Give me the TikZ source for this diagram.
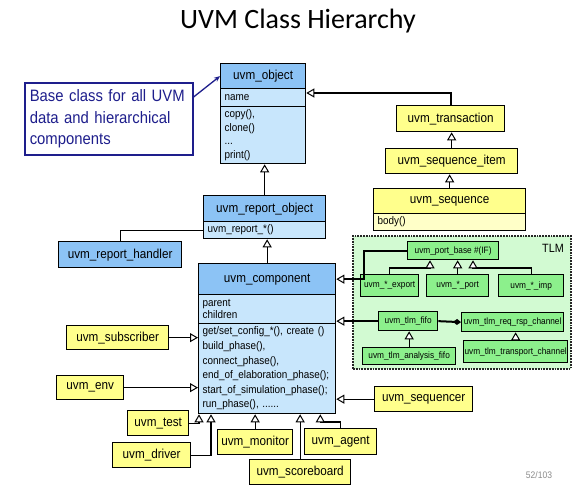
\documentclass[tikz,border=0pt]{standalone}
\usepackage{fontspec}
\setmainfont{Liberation Sans}
\newfontfamily\uvmfont[FakeStretch=0.9]{Liberation Sans}
\newfontfamily\titlefont{Carlito}
\usetikzlibrary{arrows.meta,calc}
\definecolor{hdrblue}{RGB}{140,195,245}
\definecolor{bodyblue}{RGB}{200,230,252}
\definecolor{clsyellow}{RGB}{255,255,140}
\definecolor{bodyyellow}{RGB}{255,255,200}
\definecolor{tlmgreen}{RGB}{140,240,140}
\definecolor{tlmback}{RGB}{210,250,210}
\definecolor{notenavy}{RGB}{30,30,140}

\begin{document}
\begin{tikzpicture}[x=1pt,y=-1pt,
	box/.style={draw, line width=1.3pt, anchor=north west, inner sep=0pt, font=\uvmfont\fontsize{13}{15}\selectfont},
	mem/.style={box, align=left, inner xsep=4pt, font=\uvmfont\fontsize{11}{13.5}\selectfont},
	tlmbox/.style={box, fill=tlmgreen, font=\uvmfont\fontsize{9.2}{11}\selectfont},
	inh/.style={line width=1.2pt, -{Triangle[length=8pt, width=9pt, fill=white, line width=1pt]}},
	assoc/.style={line width=1.2pt}]
		\useasboundingbox (0,0) rectangle (576,486);
		\fill[white] (0,0) rectangle (576,486);
		
		% Title
		\node[font=\titlefont\fontsize{28}{32}\selectfont] (title) at (298,21) {UVM Class Hierarchy};
		
		% uvm_object
		\node[box, fill=hdrblue, minimum width=85pt, minimum height=25pt] (obj) at (220,63) {uvm\_object};
		\node[mem, fill=bodyblue, minimum width=85pt, minimum height=18pt, text width=77pt] (objname) at (220,88) {name};
		\node[mem, fill=bodyblue, minimum width=85pt, minimum height=57pt, text width=77pt] (objops) at (220,106) {copy(),\\clone()\\...\\print()};
		
		% Note
		\node[draw=notenavy, line width=1.6pt, fill=white, text=notenavy, anchor=north west, minimum width=168pt, minimum height=72pt, align=left, text width=158pt, inner xsep=5pt, font=\uvmfont\fontsize{16.5}{21.5}\selectfont] (note) at (24,82) {Base class for all UVM\\data and hierarchical\\components};
		\draw[notenavy, line width=1.3pt, -{Stealth[length=6pt, width=5pt]}] ($(note.north east)+(0,15)$) -- (obj.west);
		
		% uvm_report_object and handler
		\node[box, fill=hdrblue, minimum width=122pt, minimum height=26pt] (rep) at (203,195) {uvm\_report\_object};
		\node[mem, fill=bodyblue, minimum width=122pt, minimum height=17pt, text width=114pt] (reprow) at (203,221) {uvm\_report\_*()};
		\node[box, fill=hdrblue, minimum width=123pt, minimum height=26pt] (handler) at (58,241) {uvm\_report\_handler};
		
		% uvm_component
		\node[box, fill=hdrblue, minimum width=137pt, minimum height=31pt] (comp) at (198,263) {uvm\_component};
		\node[mem, fill=bodyblue, minimum width=137pt, minimum height=29pt, text width=129pt, font=\uvmfont\fontsize{11}{12.5}\selectfont] (compattr) at (198,294) {parent\\children};
		\node[mem, fill=bodyblue, minimum width=137pt, minimum height=90pt, text width=129pt, font=\uvmfont\fontsize{11}{14.6}\selectfont] (compops) at (198,323) {get/set\_config\_*(), create ()\\build\_phase(),\\connect\_phase(),\\end\_of\_elaboration\_phase();\\start\_of\_simulation\_phase();\\run\_phase(), ......};
		
		% Sequence items
		\node[box, fill=clsyellow, minimum width=108pt, minimum height=26pt] (trans) at (396,105) {uvm\_transaction};
		\node[box, fill=clsyellow, minimum width=132pt, minimum height=25pt] (item) at (385,148) {uvm\_sequence\_item};
		\node[box, fill=clsyellow, minimum width=152pt, minimum height=25pt] (seq) at (373,188) {uvm\_sequence};
		\node[mem, fill=bodyyellow, minimum width=152pt, minimum height=17pt, text width=144pt] (seqbody) at (373,213) {body()};
		
		% Components
		\node[box, fill=clsyellow, minimum width=102pt, minimum height=24pt] (sub) at (66,325) {uvm\_subscriber};
		\node[box, fill=clsyellow, minimum width=67pt, minimum height=24pt] (env) at (56,375) {uvm\_env};
		\node[box, fill=clsyellow, minimum width=61pt, minimum height=25pt] (test) at (127,410) {uvm\_test};
		\node[box, fill=clsyellow, minimum width=78pt, minimum height=25pt] (drv) at (112,442) {uvm\_driver};
		\node[box, fill=clsyellow, minimum width=75pt, minimum height=25pt] (mon) at (217,429) {uvm\_monitor};
		\node[box, fill=clsyellow, minimum width=101pt, minimum height=25pt] (sb) at (249,459) {uvm\_scoreboard};
		\node[box, fill=clsyellow, minimum width=72pt, minimum height=26pt] (agent) at (304,428) {uvm\_agent};
		\node[box, fill=clsyellow, minimum width=98pt, minimum height=25pt] (seqr) at (374,386) {uvm\_sequencer};
		
		% TLM
		\node[draw=black!85, densely dotted, line width=1.8pt, fill=tlmback, anchor=north west, minimum width=218pt, minimum height=133pt] (tlm) at (352,235) {};
		\node[font=\uvmfont\fontsize{12}{14}\selectfont] (tlmlabel) at (553,248) {TLM};
		\node[tlmbox, minimum width=91pt, minimum height=18pt] (pb) at (407,241) {uvm\_port\_base \#(IF)};
		\node[tlmbox, minimum width=58pt, minimum height=22pt] (exp) at (360,274) {uvm\_*\_export};
		\node[tlmbox, minimum width=62pt, minimum height=22pt] (prt) at (426,274) {uvm\_*\_port};
		\node[tlmbox, minimum width=65pt, minimum height=22pt] (imp) at (498,274) {uvm\_*\_imp};
		\node[tlmbox, minimum width=59pt, minimum height=19pt] (fifo) at (378,311) {uvm\_tlm\_fifo};
		\node[tlmbox, minimum width=102pt, minimum height=19pt] (rr) at (461,312) {uvm\_tlm\_req\_rsp\_channel};
		\node[tlmbox, minimum width=93pt, minimum height=17pt] (af) at (362,347) {uvm\_tlm\_analysis\_fifo};
		\node[tlmbox, minimum width=104pt, minimum height=22pt] (tc) at (463,340) {uvm\_tlm\_transport\_channel};
		
		% Page number
		\node[text=black!45, font=\uvmfont\fontsize{9.5}{11}\selectfont] (pagenum) at (539,475) {52/103};
		
		% Inheritance
		\draw[inh] (rep.north) -- (rep.north |- objops.south);
		\draw[inh] (comp.north) -- (comp.north |- reprow.south);
		\draw[assoc] (handler.north) |- (reprow.west);
		\draw[inh, line width=1.8pt] (trans.north) |- ($(objname.north east)+(0,5)$);
		\draw[inh] (item.north) -- (item.north |- trans.south);
		\draw[inh] (seq.north) -- (seq.north |- item.south);
		\draw[inh] (sub.east) -- (sub.east -| compops.west);
		\draw[inh] (env.east) -- (env.east -| compops.west);
		\draw[inh] (test.east) -| ($(compops.south west)+(1,0)$);
		\draw[inh] (drv.east) -| ($(compops.south west)+(13,0)$);
		\draw[inh] (mon.north) -- (mon.north |- compops.south);
		\draw[inh] (sb.north) -- (sb.north |- compops.south);
		\draw[inh] (agent.north) -- ++(0,-6) -| ($(compops.south east)+(-16,0)$);
		\draw[inh] (seqr.west) -- (seqr.west -| compops.east);
		
		% TLM links
		\draw[inh, line width=2.2pt] (pb.west) -- ++(-43,0) |- (comp.east);
		\draw[inh, line width=2.2pt] (fifo.west) -- (fifo.west -| compattr.east);
		\draw[line width=2pt, -{Diamond[length=8pt, width=6pt]}] (fifo.east) -- (rr.west);
		\draw[inh] (exp.north) -- ++(0,-6) -| ($(pb.south west)+(23,0)$);
		\draw[inh] (prt.north) -- (prt.north |- pb.south);
		\draw[inh] (imp.north) -- ++(0,-6) -| ($(pb.south west)+(66,0)$);
		\draw[inh] (af.north) -- (af.north |- fifo.south);
		\draw[inh] (tc.north) -- (tc.north |- rr.south);
	\end{tikzpicture}
\end{document}
